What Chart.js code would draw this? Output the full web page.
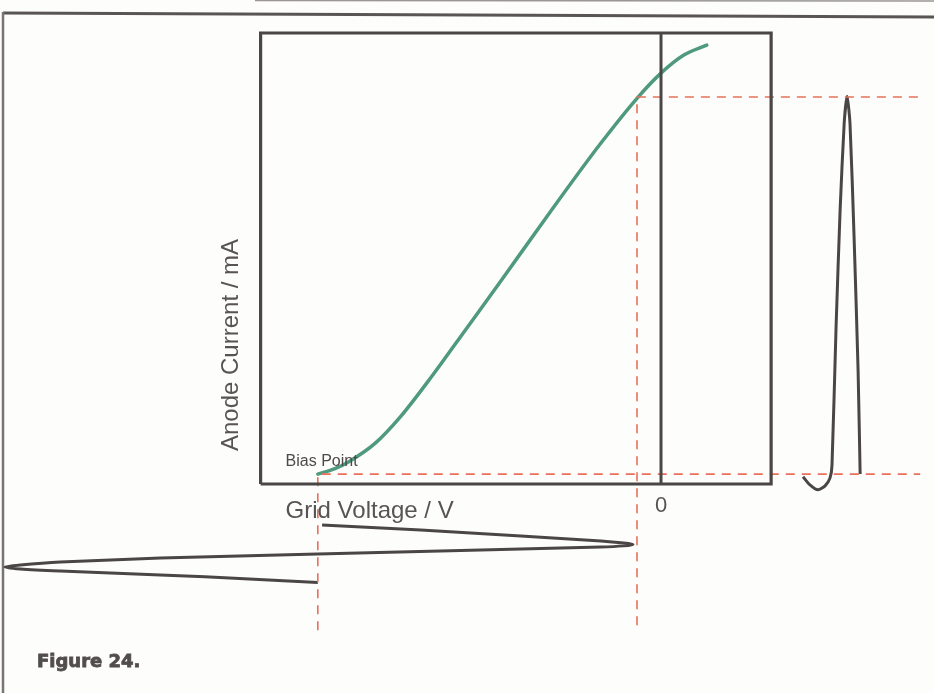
<!DOCTYPE html>
<html>
<head>
<meta charset="utf-8">
<script src="https://cdn.jsdelivr.net/npm/chart.js@4"></script>
<style>
  html, body { margin: 0; padding: 0; background: #fdfdfb; }
  #wrap { width: 934px; height: 693px; position: relative; }
</style>
</head>
<body>
<div id="wrap"><canvas id="c"></canvas></div>
<script>
// ---- Transfer characteristic (grid voltage V -> anode current mA)
const gridVoltage = [-12, -11.4, -10.9, -10, -9.1, -8, -6.8, -5.6, -3.9, -2.1, -0.8, 0, 0.8, 1.6];
const anodeCurrent = [2.2, 3.4, 5.0, 9.0, 15.0, 24.0, 34.5, 45, 60.1, 75.6, 85.8, 91.1, 95.1, 97.3];

// ---- Input signal on the grid (time ms downward, grid voltage V)
const inputTime = [0, 1.7, 3.8, 5.5, 6.2, 6.7, 7.2, 7.6, 8.6, 10, 11.4, 12.8, 13.8, 14.5, 15.2, 15.9, 17.2, 18.6, 19.8];
const inputVoltage = [-11.85, -8.4, -4.9, -2.1, -1.3, -0.98, -1.3, -2.1, -6.3, -12, -17.5, -21, -22.4, -22.94, -22.4, -21, -17.5, -14.4, -12];

// ---- Output anode current (time ms to the right, current mA)
const outputTime = [0, 2.4, 5.2, 7.6, 9.3, 10, 11.4, 12.8, 14.2, 15.2, 16.2, 17.6, 19, 19.7];
const outputCurrent = [1.6, -0.2, -1.3, -0.4, 1.3, 4.2, 34.8, 60.8, 80, 86, 80, 55, 25, 2.2];

// ---- Axis extents of the characteristic box and operating points
const gridRange = [-14, 3.85];
const currentRange = [0, 100];
const biasVoltage = -12;
const biasCurrent = 2.2;
const peakVoltage = -0.84;
const peakCurrent = 85.8;
const guideRight = 9.06;
const guideBottom = [-32.4, -31.3];

const ink = '#4b4646';
const red = '#e8705c';

function pts(xs, ys) { return xs.map((x, i) => ({ x: x, y: ys[i] })); }

const datasets = [
  { // box
    data: [{x: gridRange[0], y: currentRange[0]}, {x: gridRange[1], y: currentRange[0]}, {x: gridRange[1], y: currentRange[1]}, {x: gridRange[0], y: currentRange[1]}, {x: gridRange[0], y: currentRange[0]}],
    borderColor: ink, borderWidth: 3.2, tension: 0, borderJoinStyle: 'miter', xAxisID: 'x', yAxisID: 'y'
  },
  { // zero grid voltage line
    data: [{x: 0, y: currentRange[0]}, {x: 0, y: currentRange[1]}],
    borderColor: ink, borderWidth: 3, tension: 0, xAxisID: 'x', yAxisID: 'y'
  },
  { // guides
    data: [{x: biasVoltage, y: guideBottom[0]}, {x: biasVoltage, y: biasCurrent}, {x: guideRight, y: biasCurrent}],
    borderColor: red, borderWidth: 1.6, borderDash: [9, 7], tension: 0, xAxisID: 'x', yAxisID: 'y'
  },
  {
    data: [{x: peakVoltage, y: guideBottom[1]}, {x: peakVoltage, y: peakCurrent}, {x: guideRight, y: peakCurrent}],
    borderColor: red, borderWidth: 1.6, borderDash: [9, 7], tension: 0, xAxisID: 'x', yAxisID: 'y'
  },
  { // characteristic curve
    data: pts(gridVoltage, anodeCurrent),
    borderColor: '#4f9a7d', borderWidth: 3.5, cubicInterpolationMode: 'monotone', borderCapStyle: 'round', xAxisID: 'x', yAxisID: 'y'
  },
  { // input waveform
    data: pts(inputVoltage, inputTime),
    borderColor: ink, borderWidth: 3, tension: 0.3, xAxisID: 'x', yAxisID: 'y2'
  },
  { // output waveform
    data: pts(outputTime, outputCurrent),
    borderColor: ink, borderWidth: 3, tension: 0.2, xAxisID: 'x2', yAxisID: 'y'
  }
];

const decor = {
  id: 'decor',
  beforeDatasetsDraw(chart) {
    const ctx = chart.ctx;
    ctx.save();
    // scanned page frame
    ctx.strokeStyle = '#5a5555';
    ctx.lineWidth = 3;
    ctx.beginPath(); ctx.moveTo(3, 13); ctx.lineTo(934, 17); ctx.stroke();
    ctx.lineWidth = 2.5;
    ctx.strokeStyle = '#7a7575';
    ctx.beginPath(); ctx.moveTo(3, 12); ctx.lineTo(3, 693); ctx.stroke();
    ctx.lineWidth = 1.5;
    ctx.strokeStyle = '#9a9696';
    ctx.beginPath(); ctx.moveTo(255, 0.5); ctx.lineTo(934, 1); ctx.stroke();
    ctx.restore();
  },
  afterDatasetsDraw(chart) {
    const ctx = chart.ctx;
    const sx = chart.scales.x, sy = chart.scales.y;
    const left = sx.getPixelForValue(gridRange[0]);
    const bottom = sy.getPixelForValue(currentRange[0]);
    ctx.save();
    ctx.fillStyle = '#585454';
    ctx.textBaseline = 'middle';
    ctx.font = '24px "Liberation Sans", Arial, sans-serif';
    ctx.textAlign = 'left';
    ctx.fillText('Grid Voltage / V', left + 25, bottom + 27);
    ctx.textAlign = 'center';
    ctx.font = '22px "Liberation Sans", Arial, sans-serif';
    ctx.fillText('0', sx.getPixelForValue(0), bottom + 22);
    ctx.font = '16px "Liberation Sans", Arial, sans-serif';
    ctx.textAlign = 'left';
    ctx.fillStyle = '#4e4a4a';
    ctx.fillText('Bias Point', left + 25, bottom - 22);
    ctx.fillStyle = '#585454';
    ctx.save();
    ctx.translate(left - 29, 345);
    ctx.rotate(-Math.PI / 2);
    ctx.textAlign = 'center';
    ctx.font = '24px "Liberation Sans", Arial, sans-serif';
    ctx.fillText('Anode Current / mA', 0, 0);
    ctx.restore();
    ctx.font = 'bold 18px "DejaVu Sans", sans-serif';
    ctx.textAlign = 'left';
    ctx.fillStyle = '#524d4d';
    ctx.strokeStyle = '#524d4d';
    ctx.lineWidth = 0.8;
    ctx.fillText('Figure 24.', 37, 662);
    ctx.strokeText('Figure 24.', 37, 662);
    ctx.restore();
  }
};

new Chart(document.getElementById('c'), {
  type: 'scatter',
  data: { datasets: datasets },
  options: {
    responsive: true,
    maintainAspectRatio: false,
    animation: false,
    layout: { padding: 0 },
    elements: { point: { radius: 0, hoverRadius: 0 } },
    datasets: { scatter: { showLine: true, clip: false, fill: false } },
    plugins: { legend: { display: false }, tooltip: { enabled: false } },
    scales: {
      x: { type: 'linear', display: false, min: -23.112, max: 9.545 },
      y: { type: 'linear', display: false, min: -46.34, max: 107.32 },
      x2: { type: 'linear', display: false, min: -276.9, max: 45.17 },
      y2: { type: 'linear', display: false, reverse: true, min: -181.03, max: 57.93 }
    }
  },
  plugins: [decor]
});
</script>
</body>
</html>
